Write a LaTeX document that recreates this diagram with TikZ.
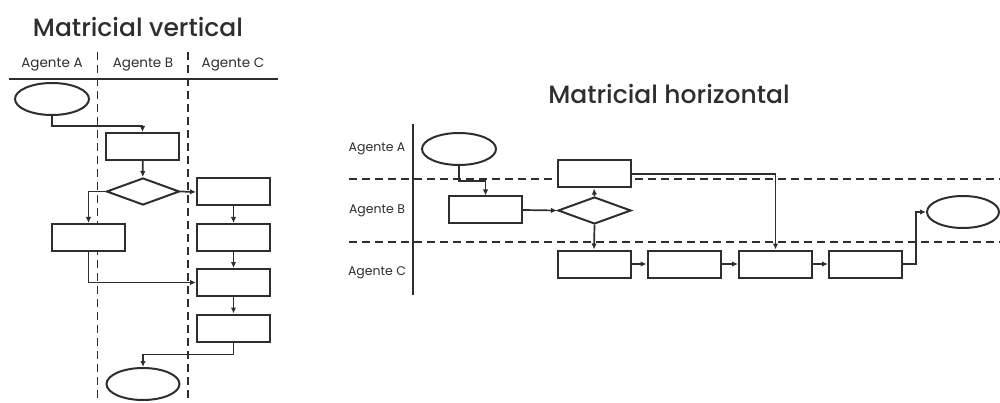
\documentclass[tikz,border=0pt]{standalone}
\usepackage{fontspec}
\setmainfont{Poppins}[UprightFont = * Medium]
\newfontfamily\lblfont{Poppins}
\usetikzlibrary{shapes.geometric,arrows.meta}
\definecolor{ln}{HTML}{2E2E2E}
\begin{document}
\begin{tikzpicture}[x=1pt,y=-1pt,
  shp/.style={draw=ln,line width=2pt,fill=white,inner sep=0pt},
  box/.style={shp,rectangle,minimum width=73pt,minimum height=27pt},
  oval/.style={shp,ellipse,minimum width=74pt,minimum height=32pt},
  diam/.style={shp,diamond,minimum width=73pt,minimum height=27pt},
  arr/.style={draw=ln,line width=1.7pt,-{Latex[length=6pt,width=5.5pt]}},
  lane/.style={draw=ln,line width=1.9pt,dash pattern=on 8pt off 5pt},
  solid line/.style={draw=ln,line width=2pt},
  ttl/.style={text=ln,font=\fontsize{25}{28}\selectfont,inner sep=0pt},
  lbl/.style={text=ln,font=\lblfont\fontsize{13.5}{15}\selectfont,inner sep=0pt},
  lbls/.style={text=ln,font=\lblfont\fontsize{12.5}{14}\selectfont,inner sep=0pt}]
\useasboundingbox (0,0) rectangle (1000,403);

% ---------- Matricial vertical ----------
\node[ttl] (vT) at (138,27) {Matricial vertical};
\node[lbl] (vhA) at (52,65) {Agente A};
\node[lbl] (vhB) at (143,65) {Agente B};
\node[lbl] (vhC) at (233,65) {Agente C};
\coordinate (vL1) at (9,79);
\coordinate (vL2) at (278,79);
\draw[solid line] (vL1) -- (vL2);
\coordinate (vd1t) at (97.5,52);
\coordinate (vd1b) at (97.5,403);
\coordinate (vd2t) at (188,52);
\coordinate (vd2b) at (188,403);
\draw[lane] (vd1t) -- (vd1b);
\draw[lane] (vd2t) -- (vd2b);

\node[oval] (vS) at (52,99) {};
\node[box] (vB1) at (142.5,146.5) {};
\node[diam] (vD) at (143,191.5) {};
\node[box] (vC1) at (233.5,192) {};
\node[box] (vA2) at (88.5,237.5) {};
\node[box] (vC2) at (233.5,237.5) {};
\node[box] (vC3) at (233.5,282.5) {};
\node[box] (vC4) at (233.5,328) {};
\node[oval,minimum width=73pt] (vE) at (143,384) {};

\draw[arr] (vS.south) -- ++(0,10) -| (vB1.north);
\draw[arr] (vB1) -- (vD);
\draw[arr] (vD.east) -- (vC1.west);
\draw[arr] (vD.west) -| (vA2.north);
\draw[arr] (vC1) -- (vC2);
\draw[arr] (vC2) -- (vC3);
\draw[arr] (vA2.south) |- (vC3.west);
\draw[arr] (vC3) -- (vC4);
\draw[arr] (vC4.south) -- ++(0,12) -| (vE.north);

% ---------- Matricial horizontal ----------
\node[ttl] (hT) at (669,94) {Matricial horizontal};
\coordinate (hVt) at (413,124);
\coordinate (hVb) at (413,295);
\draw[solid line] (hVt) -- (hVb);
\node[lbls] (hlA) at (377,149) {Agente A};
\node[lbls] (hlB) at (377,211) {Agente B};
\node[lbls] (hlC) at (377,273) {Agente C};
\coordinate (hd1l) at (349,179);
\coordinate (hd1r) at (1000,179);
\coordinate (hd2l) at (349,242);
\coordinate (hd2r) at (1000,242);
\draw[lane] (hd1l) -- (hd1r);
\draw[lane] (hd2l) -- (hd2r);

\node[oval] (hS) at (459,149) {};
\node[box] (hB1) at (485.5,210) {};
\node[diam] (hD) at (594.5,210.5) {};
\node[box] (hA2) at (594,174) {};
\node[box] (hC1) at (594,264) {};
\node[box] (hC2) at (684,264) {};
\node[box] (hC3) at (775.5,264) {};
\node[box] (hC4) at (865.5,264) {};
\node[oval,minimum width=72pt] (hE) at (963,212) {};

\draw[arr] (hS.south) -- ++(0,15) -| (hB1.north);
\draw[arr] (hB1.east) -- (hD.west);
\draw[arr] (hD.north) -- (hA2.south);
\draw[arr] (hD.south) -- (hC1.north);
\draw[arr] (hC1) -- (hC2);
\draw[arr] (hC2) -- (hC3);
\draw[arr] (hC3) -- (hC4);
\draw[arr] (hA2.east) -| (hC3.north);
\draw[arr] (hC4.east) -- ++(13,0) |- (hE.west);
\end{tikzpicture}
\end{document}
